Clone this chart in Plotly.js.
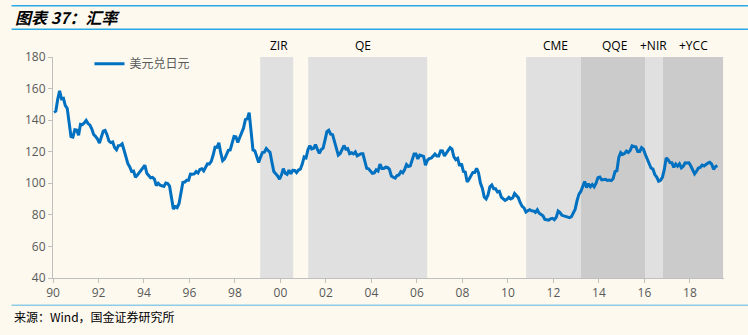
<!DOCTYPE html>
<html>
<head>
<meta charset="utf-8">
<script src="https://cdn.plot.ly/plotly-3.0.1.min.js"></script>
<style>
html,body{margin:0;padding:0;background:#FDF9EF;}
#chart{width:748px;height:335px;}
</style>
</head>
<body>
<div id="chart"></div>
<script>
// Monthly USD/JPY, Jan 1990 onwards
const startYear = 1990;
const usdjpy = [
// 1990
145.0,145.7,153.3,158.5,153.5,153.8,149.2,147.5,138.4,129.6,129.2,133.9,
// 1991
133.7,130.5,137.4,137.1,138.2,139.8,137.8,136.8,134.3,130.8,129.6,128.0,
// 1992
125.5,128.8,133.0,133.5,130.8,126.8,125.8,126.2,122.6,121.2,123.9,124.0,
// 1993
125.0,120.9,117.0,112.4,110.3,107.4,107.7,103.8,105.2,106.9,107.9,109.9,
// 1994
111.4,106.3,105.1,103.5,103.8,102.7,98.5,100.0,98.8,98.4,98.0,100.2,
// 1995
99.8,98.2,90.8,83.7,85.2,84.6,87.2,94.6,100.5,100.8,101.9,101.9,
// 1996
105.8,105.7,105.9,107.4,106.5,108.8,109.2,107.9,109.9,112.4,112.3,113.9,
// 1997
117.9,122.9,122.7,125.6,119.2,114.3,115.4,117.9,120.9,121.1,125.4,129.7,
// 1998
129.5,125.9,129.0,132.0,134.9,140.3,140.8,144.7,134.5,121.1,120.6,117.4,
// 1999
113.2,116.6,119.5,119.7,122.0,120.7,119.6,113.3,107.4,106.0,104.7,102.6,
// 2000
105.2,109.3,106.3,105.6,108.3,106.1,108.2,108.1,106.8,108.4,108.9,112.2,
// 2001
116.7,116.1,121.2,123.8,121.8,122.2,124.5,121.5,118.9,121.4,122.3,127.3,
// 2002
132.7,133.6,131.1,130.8,126.4,123.3,117.9,118.9,121.1,123.9,121.6,122.0,
// 2003
118.7,119.3,118.6,119.9,117.4,118.3,118.7,118.7,114.8,109.5,109.2,107.7,
// 2004
106.3,106.6,108.5,107.7,112.2,109.4,109.4,110.2,110.0,108.8,104.6,103.8,
// 2005
103.3,104.9,105.3,107.4,106.6,108.7,111.9,110.6,111.0,114.8,118.5,118.5,
// 2006
115.5,117.9,117.3,117.1,111.5,114.5,115.6,115.9,117.2,118.6,117.3,117.3,
// 2007
120.6,120.5,117.3,118.8,120.8,122.6,121.6,116.7,115.0,115.8,111.1,112.4,
// 2008
107.6,107.1,100.8,102.6,104.4,106.9,106.9,109.4,106.6,100.1,96.9,91.3,
// 2009
90.1,92.6,97.8,98.9,96.6,96.6,94.5,94.9,91.3,90.3,89.2,89.9,
// 2010
91.1,90.1,90.7,93.5,91.8,90.9,87.7,85.4,84.4,81.8,82.6,83.3,
// 2011
82.6,82.5,81.6,83.2,81.1,80.5,79.4,77.1,76.8,76.7,77.5,77.8,
// 2012
76.9,78.5,82.4,81.4,79.7,79.3,78.9,78.7,78.2,78.9,80.9,83.6,
// 2013
89.1,93.1,94.9,97.7,101.1,97.3,99.7,97.8,99.2,97.8,100.1,103.5,
// 2014
103.9,102.1,102.3,102.5,101.8,102.1,101.7,102.9,107.4,108.0,116.4,119.4,
// 2015
118.3,118.8,120.4,119.5,120.8,123.7,123.3,123.1,120.1,120.1,122.6,121.6,
// 2016
118.2,115.0,113.0,109.7,109.0,105.5,103.9,101.3,101.9,103.8,108.6,116.1,
// 2017
114.9,113.1,113.0,110.1,112.2,110.9,112.4,109.8,110.8,112.9,112.8,112.9,
// 2018
110.9,107.9,106.0,107.6,109.7,110.1,111.5,111.0,112.0,112.8,113.3,112.2,
// 2019
108.9,110.5,111.2
];
const seriesName = '美元兑日元';
const tickYears = [1990,1992,1994,1996,1998,2000,2002,2004,2006,2008,2010,2012,2014,2016,2018];
const tickLabels = ['90','92','94','96','98','00','02','04','06','08','10','12','14','16','18'];
const regionNames = ['ZIR','QE','CME','QQE','+NIR','+YCC'];
const regionStart = [1999.11, 2001.22, 2010.80, 2013.21, 2016.05, 2016.81];
const regionEnd   = [2000.56, 2006.45, 2013.21, 2016.05, 2016.81, 2019.46];
const regionLabelX = [1999.92, 2003.63, 2012.09, 2014.68, 2016.41, 2018.17];
const regionDark = [false,false,false,true,false,true];

const xs = usdjpy.map((v,i) => startYear + (i + 0.5) / 12);

const trace = {
  x: xs, y: usdjpy, type: 'scatter', mode: 'lines', name: seriesName,
  line: {color: '#0070C0', width: 3}
};

const shapes = [];
for (let i = 0; i < regionNames.length; i++) {
  shapes.push({type:'rect', xref:'x', yref:'paper', x0: regionStart[i], x1: regionEnd[i], y0: 0, y1: 1,
    fillcolor: regionDark[i] ? '#CBCBCB' : '#E0E0E0', line:{width:0}, layer:'below'});
}
// decorative header/footer rules
const px = p => (p - 52.5) / 671.5;
const py = p => (278.3 - p) / 221;
shapes.push({type:'line', xref:'paper', yref:'paper', x0: px(11), x1: px(748), y0: py(6), y1: py(6), line:{color:'#2AA8E6', width:1.5}});
shapes.push({type:'line', xref:'paper', yref:'paper', x0: px(11), x1: px(748), y0: py(29.5), y1: py(29.5), line:{color:'#2AA8E6', width:1.5}});
shapes.push({type:'line', xref:'paper', yref:'paper', x0: px(11), x1: px(748), y0: py(305.5), y1: py(305.5), line:{color:'#8FCBE6', width:1.5}});

const annotations = [];
for (let i = 0; i < regionNames.length; i++) {
  annotations.push({xref:'x', yref:'paper', x: regionLabelX[i], y: py(46), text: regionNames[i], showarrow:false,
    xanchor:'center', yanchor:'middle', font:{family:'Open Sans, Noto Sans, sans-serif', size:12, color:'#000000'}});
}
annotations.push({xref:'paper', yref:'paper', x: px(12), y: py(17), text: '<b><i>图表 37：汇率</i></b>', showarrow:false,
  xanchor:'left', yanchor:'middle', font:{family:'Noto Sans CJK SC, sans-serif', size:16, color:'#000000'}});
annotations.push({xref:'paper', yref:'paper', x: px(11), y: py(317), text: '来源：Wind，国金证券研究所', showarrow:false,
  xanchor:'left', yanchor:'middle', font:{family:'Noto Sans CJK SC, sans-serif', size:12, color:'#000000'}});

const layout = {
  width: 748, height: 335,
  margin: {l: 52.5, r: 23.5, t: 57.3, b: 56.7, pad: 0},
  paper_bgcolor: '#FDF9EF', plot_bgcolor: '#FDF9EF',
  showlegend: true,
  legend: {x: px(89), y: py(64), xanchor:'left', yanchor:'middle', bgcolor:'rgba(0,0,0,0)',
    font:{family:'Noto Sans CJK SC, sans-serif', size:12, color:'#595959'}, itemwidth: 30},
  xaxis: {range: [1990, 2019.5], tickvals: tickYears, ticktext: tickLabels, showgrid: false, zeroline: false,
    showline: true, linecolor: '#BFBFBF', linewidth: 1, ticks: 'outside', ticklen: 4, tickcolor: '#BFBFBF',
    tickfont: {family:'Open Sans, Noto Sans, sans-serif', size: 12, color:'#595959'}},
  yaxis: {range: [40, 180], tickvals: [40,60,80,100,120,140,160,180], showgrid: false, zeroline: false,
    showline: true, linecolor: '#BFBFBF', linewidth: 1, ticks: 'outside', ticklen: 4, tickcolor: '#BFBFBF',
    tickfont: {family:'Open Sans, Noto Sans, sans-serif', size: 12, color:'#595959'}},
  shapes: shapes,
  annotations: annotations
};

Plotly.newPlot('chart', [trace], layout, {displayModeBar: false, staticPlot: true});
</script>
</body>
</html>
